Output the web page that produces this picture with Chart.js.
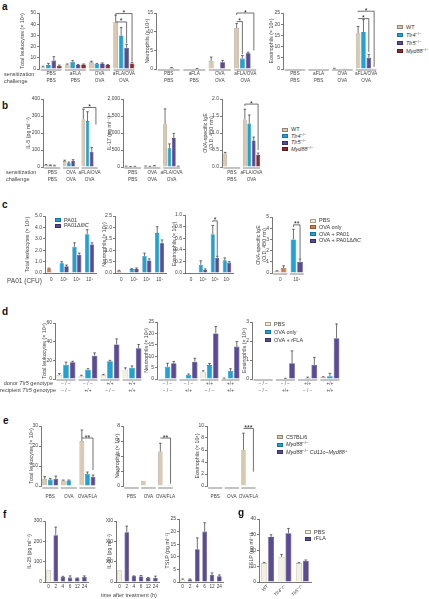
<!DOCTYPE html>
<html lang="en">
<head>
<meta charset="UTF-8">
<title>Figure</title>
<script src="https://cdn.jsdelivr.net/npm/chart.js"></script>
<style>
  * { margin: 0; padding: 0; box-sizing: border-box; }
  body {
    width: 429px; height: 599px; background: #fff; position: relative; overflow: hidden;
    font-family: 'Liberation Sans', 'DejaVu Sans', sans-serif; color: #333;
  }
  canvas { position: absolute; }
  .lbl { position: absolute; font-size: 5.5px; line-height: 7px; white-space: nowrap; color: #444; }
  .panel { position: absolute; font-weight: bold; font-size: 10px; line-height: 10px; color: #111; }
  .leg { position: absolute; font-size: 5.5px; line-height: 5px; white-space: nowrap; color: #333; }
  .sw { position: absolute; left: 0; top: 0; width: 6px; height: 4px; border: 0.6px solid; }
  .leg span.t { position: absolute; left: 9px; top: -0.5px; }
  sup { font-size: 4px; vertical-align: 2px; line-height: 0; }
</style>
</head>
<body>
<script>
// ---- colours ----
const beige = '#d8c9b0', beigeB = '#8f8470';
const cyan = '#1fa2d6', cyanB = '#15739c';
const purple = '#5a4b94', purpleB = '#3b2f6b';
const red = '#8b2c2e', redB = '#5c1a1c';
const orange = '#d27d4e', orangeB = '#98522c';
const pale = '#f4efe3', paleB = '#a89c86';

// ---- panel a ----
const aCats = [['PBS', 'PBS'], ['aFLA', 'PBS'], ['OVA', 'OVA'], ['aFLA/OVA', 'OVA']];
const aSeries = ['WT', '<i>Tlr4</i><sup>−/−</sup>', '<i>Tlr5</i><sup>−/−</sup>', '<i>Myd88</i><sup>−/−</sup>'];
// rows: WT, Tlr4, Tlr5, Myd88
const aLeuk = [[2, 4, 6, 42], [3.5, 6.5, 4.5, 30], [7.5, 3.5, 5, 19], [3, 4, 3.5, 5]];
const aLeukErr = [[0.5, 0.5, 1, 6], [1.5, 1, 0.5, 7], [3.5, 0.5, 0.5, 3], [0.5, 0.5, 0.5, 1]];
const aNeut = [[0, 0, 2.2, 11], [0, 0, 0, 2.8], [0.3, 0.1, 1.8, 4.2], [0, 0, 0, 0]];
const aNeutErr = [[0, 0, 1, 1.2], [0, 0, 0, 0.8], [0.1, 0.05, 0.5, 0.3], [0, 0, 0, 0]];
const aEos = [[0, 0, 0.2, 16], [0, 0, 0, 16.5], [0, 0, 0.1, 5], [0, 0, 0, 0]];
const aEosErr = [[0, 0, 0.1, 3], [0, 0, 0, 5.5], [0, 0, 0, 1.5], [0, 0, 0, 0]];

// ---- panel b ----
const bCats = [['PBS', 'PBS'], ['OVA', 'OVA'], ['aFLA/OVA', 'OVA']];
const bIgECats = [['PBS', 'PBS'], ['aFLA/OVA', 'OVA']];
const bIL5 = [[12, 35, 280], [10, 25, 270], [8, 35, 90], [null, null, null]];
const bIL5Err = [[2, 5, 60], [2, 4, 55], [2, 8, 25], [0, 0, 0]];
const bIL17 = [[20, 25, 1260], [10, 15, 550], [15, 35, 850], [null, null, 20]];
const bIL17Err = [[5, 5, 450], [3, 5, 130], [5, 8, 140], [0, 0, 5]];
const bIgE = [[0.4, 1.4], [null, 1.28], [null, 0.78], [null, 0.35]];
const bIgEErr = [[0.03, 0.3], [0, 0.25], [0, 0.1], [0, 0.06]];

// ---- panel c ----
const cCats = ['0', '10⁵', '10⁶', '10⁷'];
const cIgECats = ['0', '10⁶'];
const cSeries = ['PA01', 'PA01Δ<i>fliC</i>'];
const cGroups = ['PBS', 'OVA only', 'OVA + PA01', 'OVA + PA01Δ<i>fliC</i>'];
// rows: PA01 (first bar of "0" is the OVA-only control), PA01ΔfliC
const cLeuk = [[0.4, 0.85, 2.3, 3.4], [null, 0.6, 1.6, 2.5]];
const cLeukErr = [[0.03, 0.15, 0.35, 0.4], [0, 0.1, 0.15, 0.15]];
const cNeut = [[0.1, 0.17, 0.75, 1.75], [null, 0.17, 0.55, 1.3]];
const cNeutErr = [[0.02, 0.02, 0.12, 0.28], [0, 0.05, 0.07, 0.15]];
const cEos = [[0, 0.14, 0.67, 0.22], [null, 0.05, 0.26, 0.18]];
const cEosErr = [[0, 0.07, 0.15, 0.04], [0, 0.02, 0.03, 0.02]];
// rows: PBS / OVA+PA01, OVA only / OVA+PA01ΔfliC
const cIgE = [[0.15, 3.0], [0.45, 1.0]];
const cIgEErr = [[0.05, 0.9], [0.2, 0.25]];

// ---- panel d ----
const dCats = [['− / −', '− / −'], ['− / −', '+/+'], ['+/+', '− / −'], ['+/+', '+/+']];
const dSeries = ['PBS', 'OVA only', 'OVA + rFLA'];
const dLeuk = [[4.3, 3, 4, 10], [15, 10, 19, 12], [18, 25, 37, 33]];
const dLeukErr = [[1.5, 1, 1, 2], [3, 1, 1, 2], [1, 3, 6, 4]];
const dNeut = [[0, 0, 3.2, 0.3], [5.4, 1.8, 6.1, 3.5], [6.9, 7.6, 20, 14.2]];
const dNeutErr = [[0, 0, 0.4, 0.1], [1.5, 0.4, 0.7, 1], [0.8, 1.5, 3, 2.2]];
const dEos = [[0, 0, 0, 0.1], [0, 0.03, 0.05, 0.15], [0, 0.83, 0.74, 2.15]];
const dEosErr = [[0, 0, 0, 0.02], [0, 0.01, 0.05, 0.15], [0, 0.65, 0.4, 0.75]];

// ---- panel e ----
const eCats = ['PBS', 'OVA', 'OVA/FLA'];
const eSeries = ['C57BL/6', '<i>Myd88</i><sup>−/−</sup>', '<i>Myd88</i><sup>−/−</sup> <i>Cd11c–Myd88</i><sup>+</sup>'];
const eLeuk = [[3.5, 2.8, 22.5], [3.2, 2.8, 6], [3.5, null, 4.5]];
const eLeukErr = [[1.2, 0.2, 5.5], [0.5, 0.2, 1], [1.5, 0, 1]];
const eNeut = [[0, 0.7, 4.6], [0, 0, 0.05], [0, 0, 0.05]];
const eNeutErr = [[0, 0, 1.1], [0, 0, 0], [0, 0, 0]];
const eEos = [[0, 0, 6], [0, 0, 0], [0, 0, 0]];
const eEosErr = [[0, 0, 2.8], [0, 0, 0], [0, 0, 0]];

// ---- panel f ----
const fTimes = ['0', '2', '4', '6', '12', '24'];
const fIL25 = [60, 230, 25, 22, 18, 25];
const fIL25Err = [0, 40, 3, 8, 2, 5];
const fIL33 = [580, 2450, 280, 270, 200, 210];
const fIL33Err = [0, 300, 20, 50, 20, 80];
const fTSLP = [1, 1, 13, 20, 2.8, 2.3];
const fTSLPErr = [0.2, 0.2, 4.5, 3.5, 0.8, 0.5];

// ---- panel g ----
const gCats = ['WT', 'Tlr4⁻/⁻', 'Tlr5⁻/⁻'];
const gSeries = ['PBS', 'rFLA'];
const gPBS = [12, 16, 12];
const gPBSErr = [0.5, 1.5, 0.3];
const gFLA = [28.5, 31, 13.5];
const gFLAErr = [1.5, 3, 0.5];

Chart.defaults.font.family = "'Liberation Sans','DejaVu Sans',sans-serif";
Chart.defaults.font.size = 5;
Chart.defaults.color = '#444';
Chart.defaults.animation = false;

// error bars, group baselines and significance brackets
const extras = {
  id: 'extras',
  afterDatasetsDraw(chart, args, o) {
    const ctx = chart.ctx, x = chart.scales.x, y = chart.scales.y;
    ctx.save();
    ctx.strokeStyle = '#333';
    ctx.lineWidth = 0.7;
    chart.data.datasets.forEach((ds, i) => {
      if (!ds.err) return;
      chart.getDatasetMeta(i).data.forEach((bar, j) => {
        const v = ds.data[j], e = ds.err[j];
        if (v == null || !e) return;
        const y0 = y.getPixelForValue(v), y1 = y.getPixelForValue(v + e);
        ctx.beginPath();
        ctx.moveTo(bar.x, y0); ctx.lineTo(bar.x, y1);
        ctx.moveTo(bar.x - 1.3, y1); ctx.lineTo(bar.x + 1.3, y1);
        ctx.stroke();
      });
    });
    if (o.segs) {
      const n = chart.data.labels.length, half = x.width / n * 0.43;
      const yb = y.getPixelForValue(0) + (o.segOff || 1);
      ctx.strokeStyle = '#9a9a9a';
      ctx.lineWidth = 1.2;
      for (let i = 0; i < n; i++) {
        const cx = x.getPixelForValue(i);
        ctx.beginPath(); ctx.moveTo(cx - half, yb); ctx.lineTo(cx + half, yb); ctx.stroke();
      }
    }
    (o.brackets || []).forEach(b => {
      const xa = chart.getDatasetMeta(b.a[0]).data[b.a[1]].x;
      const xb = chart.getDatasetMeta(b.b[0]).data[b.b[1]].x;
      const yv = y.getPixelForValue(b.v);
      ctx.strokeStyle = '#333';
      ctx.lineWidth = 0.7;
      ctx.beginPath();
      ctx.moveTo(xa, y.getPixelForValue(b.l));
      ctx.lineTo(xa, yv); ctx.lineTo(xb, yv);
      ctx.lineTo(xb, y.getPixelForValue(b.r));
      ctx.stroke();
      ctx.fillStyle = '#222';
      ctx.font = "7px 'Liberation Sans'";
      ctx.textAlign = 'center';
      ctx.fillText(b.t, (xa + xb) / 2, yv + 1.5);
    });
    ctx.restore();
  }
};
Chart.register(extras);

function sets(vals, errs, fills, borders) {
  return vals.map((d, i) => ({
    data: d, err: errs[i],
    backgroundColor: fills[i], borderColor: borders[i], borderWidth: 0.6
  }));
}

function bar(p) {
  const left = p.tx - 4, padT = p.padT || 12, xH = p.xH || 17;
  const top = p.yTop - padT;
  const W = p.x1 - left + 2, H = p.yBase - top + xH;
  const el = document.createElement('canvas');
  el.width = W; el.height = H;
  el.style.left = left + 'px'; el.style.top = top + 'px';
  document.body.appendChild(el);
  new Chart(el, {
    type: 'bar',
    data: { labels: p.cats, datasets: p.sets },
    options: {
      responsive: false,
      layout: { padding: { top: padT, right: 2, left: 0, bottom: 0 } },
      categoryPercentage: p.cp || 0.9,
      barPercentage: p.bp || 0.85,
      plugins: {
        legend: { display: false }, tooltip: { enabled: false },
        extras: { segs: p.segs, segOff: p.segOff, brackets: p.brackets || [] }
      },
      scales: {
        x: {
          grid: { display: false, drawTicks: false },
          border: { display: !!p.xline, color: '#555', width: 0.8 },
          ticks: {
            font: { size: 4.7, lineHeight: 1.5, style: p.italic ? 'italic' : 'normal' },
            padding: p.xpad == null ? 1.5 : p.xpad, autoSkip: false,
            maxRotation: p.rot || 0, minRotation: p.rot || 0
          },
          afterFit: s => { s.height = xH; }
        },
        y: {
          min: 0, max: p.max,
          border: { color: '#555', width: 0.8 },
          grid: { drawOnChartArea: false, tickLength: 2, color: '#555', lineWidth: 0.8 },
          ticks: { stepSize: p.step, font: { size: 5 }, padding: 1, callback: p.fmt || (v => v) },
          title: { display: true, text: p.title, font: { size: 5.3, lineHeight: 1.2 }, padding: 0 },
          afterFit: s => { s.width = p.x0 - left; }
        }
      }
    }
  });
}

const f1 = v => v.toFixed(1);
const fk = v => v.toLocaleString('en-US');
const four = [beige, cyan, purple, red], fourB = [beigeB, cyanB, purpleB, redB];
const three = [pale, cyan, purple], threeB = [paleB, cyanB, purpleB];
const eCol = [beige, cyan, purple], eColB = [beigeB, cyanB, purpleB];

// panel a
bar({ x0: 39, x1: 136, yTop: 13, yBase: 69, tx: 23, max: 50, step: 10, cats: aCats, segs: true,
  title: 'Total leukocytes (× 10⁴)', sets: sets(aLeuk, aLeukErr, four, fourB),
  brackets: [{ a: [0, 3], b: [3, 3], v: 49.5, l: 48.5, r: 7, t: '*' },
             { a: [0, 3], b: [2, 3], v: 42, l: 42, r: 23, t: '*' }] });
bar({ x0: 156, x1: 258, yTop: 13, yBase: 69, tx: 148, max: 15, step: 5, cats: aCats, segs: true,
  title: 'Neutrophils (× 10⁴)', sets: sets(aNeut, aNeutErr, four, fourB),
  brackets: [{ a: [0, 3], b: [3, 3], v: 15, l: 14.5, r: 5, t: '*' },
             { a: [0, 3], b: [1, 3], v: 12.7, l: 12.7, r: 4, t: '*' }] });
bar({ x0: 283, x1: 378, yTop: 13, yBase: 69, tx: 272, max: 25, step: 5, cats: aCats, segs: true,
  title: 'Eosinophils (× 10⁴)', sets: sets(aEos, aEosErr, four, fourB),
  brackets: [{ a: [0, 3], b: [3, 3], v: 25.8, l: 25.4, r: 1, t: '*' },
             { a: [0, 3], b: [2, 3], v: 22.5, l: 22.5, r: 7.5, t: '*' }] });

// panel b
bar({ x0: 43, x1: 101, yTop: 99, yBase: 167, tx: 29, max: 400, step: 100, cats: bCats, segs: true, xpad: 2,
  title: 'IL-5 (pg ml⁻¹)', sets: sets(bIL5, bIL5Err, four, fourB),
  brackets: [{ a: [0, 2], b: [3, 2], v: 350, l: 345, r: 250, t: '*' }] });
bar({ x0: 123, x1: 183, yTop: 99, yBase: 167, tx: 110, max: 2000, step: 500, cats: bCats, segs: true, xpad: 2, fmt: fk,
  title: 'IL-17 (pg ml⁻¹)', sets: sets(bIL17, bIL17Err, four, fourB) });
bar({ x0: 222, x1: 263, yTop: 99, yBase: 167, tx: 206, max: 2.0, step: 0.5, cats: bIgECats, segs: true, xpad: 2, fmt: f1,
  title: ['OVA-specific IgE', '(O.D. 450 nm)'], sets: sets(bIgE, bIgEErr, four, fourB),
  brackets: [{ a: [0, 1], b: [3, 1], v: 1.85, l: 1.8, r: 0.5, t: '*' }] });

// panel c
const cFill = [[orange, cyan, cyan, cyan], [purple, purple, purple, purple]];
const cBord = [[orangeB, cyanB, cyanB, cyanB], [purpleB, purpleB, purpleB, purpleB]];
bar({ x0: 45, x1: 96, yTop: 216, yBase: 273, tx: 28, max: 5, step: 1, cats: cCats, xline: true, fmt: f1,
  xH: 12, xpad: 3.5, cp: 0.75, bp: 0.9, title: 'Total leukocytes (× 10⁵)', sets: sets(cLeuk, cLeukErr, cFill, cBord) });
bar({ x0: 115, x1: 166, yTop: 216, yBase: 273, tx: 105, max: 2.5, step: 0.5, cats: cCats, xline: true, fmt: f1,
  xH: 12, xpad: 3.5, cp: 0.75, bp: 0.9, title: 'Neutrophils (× 10⁵)', sets: sets(cNeut, cNeutErr, cFill, cBord) });
bar({ x0: 185, x1: 233, yTop: 215, yBase: 273, tx: 175, max: 1.0, step: 0.2, cats: cCats, xline: true, fmt: f1,
  xH: 12, xpad: 3.5, cp: 0.75, bp: 0.9, title: 'Eosinophils (× 10⁵)', sets: sets(cEos, cEosErr, cFill, cBord),
  brackets: [{ a: [0, 2], b: [1, 2], v: 0.9, l: 0.88, r: 0.3, t: '*' }] });
bar({ x0: 272, x1: 305, yTop: 217, yBase: 273, tx: 259, max: 5, step: 1, cats: cIgECats, segs: true,
  xH: 12, xpad: 3.5, cp: 0.8, bp: 0.85, title: ['OVA-specific IgE', '(O.D. 450 nm)'],
  sets: sets(cIgE, cIgEErr, [[pale, cyan], [orange, purple]], [[paleB, cyanB], [orangeB, purpleB]]),
  brackets: [{ a: [0, 1], b: [1, 1], v: 4.3, l: 4.1, r: 1.3, t: '**' }] });

// panel d
bar({ x0: 55, x1: 143, yTop: 323, yBase: 379, tx: 45, max: 60, step: 20, cats: dCats, segs: true, xpad: 1,
  title: 'Total leukocytes (× 10⁴)', sets: sets(dLeuk, dLeukErr, three, threeB) });
bar({ x0: 157, x1: 241, yTop: 322, yBase: 379, tx: 147, max: 25, step: 5, cats: dCats, segs: true, xpad: 1,
  title: 'Neutrophils (× 10⁴)', sets: sets(dNeut, dNeutErr, three, threeB) });
bar({ x0: 252, x1: 341, yTop: 322, yBase: 379, tx: 245, max: 3, step: 1, cats: dCats, segs: true, xpad: 1,
  title: 'Eosinophils (× 10⁴)', sets: sets(dEos, dEosErr, three, threeB) });

// panel e
bar({ x0: 41, x1: 103, yTop: 426, yBase: 486, tx: 32, max: 30, step: 10, cats: eCats, segs: true, segOff: 2,
  xpad: 7.5, xH: 16, title: 'Total leukocytes (× 10⁴)', sets: sets(eLeuk, eLeukErr, eCol, eColB),
  brackets: [{ a: [0, 2], b: [2, 2], v: 24, l: 24, r: 8, t: '**' }] });
bar({ x0: 123, x1: 181, yTop: 426, yBase: 486, tx: 118, max: 8, step: 2, cats: eCats, segs: true, segOff: 2,
  xpad: 7.5, xH: 16, title: 'Neutrophils (× 10⁴)', sets: sets(eNeut, eNeutErr, eCol, eColB),
  brackets: [{ a: [0, 2], b: [2, 2], v: 6.4, l: 6.4, r: 0.3, t: '**' }] });
bar({ x0: 207, x1: 264, yTop: 426, yBase: 486, tx: 198, max: 10, step: 2, cats: eCats, segs: true, segOff: 2,
  xpad: 7.5, xH: 16, title: 'Eosinophils (× 10⁴)', sets: sets(eEos, eEosErr, eCol, eColB),
  brackets: [{ a: [0, 2], b: [2, 2], v: 9.6, l: 9.6, r: 2.4, t: '***' }] });

// panel f
const fFill = [pale, purple, purple, purple, purple, purple];
const fBord = [paleB, purpleB, purpleB, purpleB, purpleB, purpleB];
bar({ x0: 45, x1: 88, yTop: 521, yBase: 582, tx: 30, max: 300, step: 100, cats: fTimes, xline: true,
  xH: 10, xpad: 1, cp: 1, bp: 0.62, title: 'IL-25 (pg ml⁻¹)', sets: sets([fIL25], [fIL25Err], [fFill], [fBord]) });
bar({ x0: 116, x1: 159, yTop: 521, yBase: 582, tx: 110, max: 3000, step: 1000, cats: fTimes, xline: true, fmt: fk,
  xH: 10, xpad: 1, cp: 1, bp: 0.62, title: 'IL-33 (pg ml⁻¹)', sets: sets([fIL33], [fIL33Err], [fFill], [fBord]) });
bar({ x0: 179, x1: 223, yTop: 519, yBase: 582, tx: 168, max: 25, step: 5, cats: fTimes, xline: true,
  xH: 10, xpad: 1, cp: 1, bp: 0.62, title: 'TSLP (pg ml⁻¹)', sets: sets([fTSLP], [fTSLPErr], [fFill], [fBord]) });

// panel g
bar({ x0: 259, x1: 311, yTop: 519, yBase: 582, tx: 252, max: 40, step: 10, cats: gCats, xline: true,
  xH: 17, xpad: 1, rot: 45, italic: true, cp: 0.8, bp: 0.85, title: 'TSLP (pg ml⁻¹)',
  sets: sets([gPBS, gFLA], [gPBSErr, gFLAErr], [pale, purple], [paleB, purpleB]) });

// ---- text: panel letters, row labels, legends ----
function text(cls, x, y, html, extra) {
  const d = document.createElement('div');
  d.className = cls; d.style.left = x + 'px'; d.style.top = y + 'px';
  if (extra) d.style.cssText += extra;
  d.innerHTML = html;
  document.body.appendChild(d);
}
[['a', 2, 2], ['b', 2, 101], ['c', 2, 200], ['d', 2, 307], ['e', 3, 416], ['f', 3, 510], ['g', 238, 508]]
  .forEach(([t, x, y]) => text('panel', x, y, t));

text('lbl', 4, 70.5, 'sensitization<br>challenge');
text('lbl', 6, 168.5, 'sensitization<br>challenge');
text('lbl', 7, 276.5, 'PA01 (CFU)', 'font-size:6.5px;');
text('lbl', 0, 380, 'donor <i>Tlr5</i> genotype<br>recipient <i>Tlr5</i> genotype', 'width:53px;text-align:right;');
text('lbl', 101, 592, 'time after treatment (h)');

function legend(x, y, gap, names, fills, borders) {
  names.forEach((n, i) => {
    const d = document.createElement('div');
    d.className = 'leg';
    d.style.left = x + 'px'; d.style.top = (y + i * gap) + 'px';
    d.innerHTML = '<div class="sw" style="background:' + fills[i] + ';border-color:' + borders[i] +
      '"></div><span class="t">' + n + '</span>';
    document.body.appendChild(d);
  });
}
legend(397, 25, 8, aSeries, four, fourB);
legend(282, 127.5, 6.6, aSeries, four, fourB);
legend(55, 218, 5.5, cSeries, [cyan, purple], [cyanB, purpleB]);
legend(310, 218.5, 6.8, cGroups, [pale, orange, cyan, purple], [paleB, orangeB, cyanB, purpleB]);
legend(265, 322, 8, dSeries, three, threeB);
legend(277, 435, 7.7, eSeries, eCol, eColB);
legend(305, 530, 6.7, gSeries, [pale, purple], [paleB, purpleB]);
</script>
</body>
</html>
